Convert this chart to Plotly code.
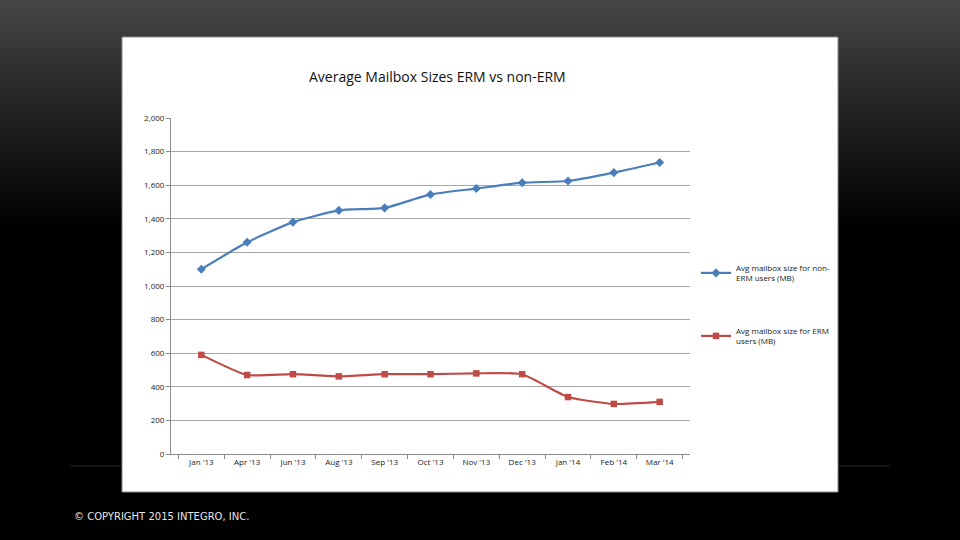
import base64
import plotly.graph_objects as go

# ---------------- data ----------------
months = ["Jan '13", "Apr '13", "Jun '13", "Aug '13", "Sep '13", "Oct '13",
          "Nov '13", "Dec '13", "Jan '14", "Feb '14", "Mar '14"]
non_erm = [1100, 1260, 1380, 1450, 1465, 1545, 1580, 1615, 1625, 1675, 1735]
erm = [590, 470, 475, 462, 475, 475, 480, 475, 339, 298, 310]
y_ticks = [0, 200, 400, 600, 800, 1000, 1200, 1400, 1600, 1800, 2000]
y_tick_text = ["0", "200", "400", "600", "800", "1,000", "1,200", "1,400",
               "1,600", "1,800", "2,000"]
title_text = "Average Mailbox Sizes ERM vs non-ERM"
name_non_erm = "Avg mailbox size for non-<br>ERM users (MB)"
name_erm = "Avg mailbox size for ERM<br>users (MB)"
copyright_text = "© COPYRIGHT 2015 INTEGRO, INC."

# ---------------- layout geometry ----------------
W, H = 960, 540
L, R, T, B = 171, 270, 118, 86
PW, PH = W - L - R, H - T - B


def px(x):
    return (x - L) / PW


def py(y):
    return (H - B - y) / PH


BLUE = "#4a7ebb"
RED = "#be4b48"

grad_svg = (
    '<svg xmlns="http://www.w3.org/2000/svg" width="960" height="540">'
    '<defs><linearGradient id="g" x1="0" y1="0" x2="0" y2="1">'
    '<stop offset="0" stop-color="#454545"/>'
    '<stop offset="0.42" stop-color="#000000"/>'
    '<stop offset="1" stop-color="#000000"/>'
    '</linearGradient></defs>'
    '<rect width="960" height="540" fill="url(#g)"/></svg>'
)
grad_uri = "data:image/svg+xml;base64," + base64.b64encode(grad_svg.encode()).decode()

fig = go.Figure()
fig.add_trace(go.Scatter(
    x=months, y=non_erm, name=name_non_erm, mode="lines+markers",
    line=dict(color=BLUE, width=2.2, shape="spline", smoothing=0.5),
    marker=dict(symbol="diamond", size=7, color=BLUE),
    legend="legend",
))
fig.add_trace(go.Scatter(
    x=months, y=erm, name=name_erm, mode="lines+markers",
    line=dict(color=RED, width=2.2, shape="spline", smoothing=0.5),
    marker=dict(symbol="square", size=6.5, color=RED),
    legend="legend2",
))

tick_font = dict(family="Open Sans, Arial, sans-serif", size=8, color="#222222")
legend_font = dict(family="Open Sans, Arial, sans-serif", size=8, color="#222222")

fig.update_layout(
    width=W, height=H,
    margin=dict(l=L, r=R, t=T, b=B, pad=0),
    paper_bgcolor="#000000",
    plot_bgcolor="#ffffff",
    showlegend=True,
    legend=dict(x=px(696), y=py(256), xanchor="left", yanchor="top",
                bgcolor="rgba(0,0,0,0)", font=legend_font, itemwidth=30,
                tracegroupgap=0),
    legend2=dict(x=px(696), y=py(319), xanchor="left", yanchor="top",
                 bgcolor="rgba(0,0,0,0)", font=legend_font, itemwidth=30,
                 tracegroupgap=0),
    xaxis=dict(
        type="category", tickfont=tick_font, showgrid=False,
        showline=True, linecolor="#8c8c8c", linewidth=1,
        ticks="outside", tickson="boundaries", ticklen=4, tickcolor="#8c8c8c",
        zeroline=False, fixedrange=True,
    ),
    yaxis=dict(
        range=[0, 2000], tickvals=y_ticks, ticktext=y_tick_text,
        tickfont=tick_font, showgrid=True, gridcolor="#a6a6a6", gridwidth=1,
        showline=True, linecolor="#8c8c8c", linewidth=1,
        ticks="outside", ticklen=4, tickcolor="#8c8c8c",
        zeroline=False, fixedrange=True,
    ),
    images=[dict(
        source=grad_uri, xref="paper", yref="paper",
        x=px(0), y=py(0), sizex=W / PW, sizey=H / PH,
        xanchor="left", yanchor="top", sizing="stretch", layer="below",
    )],
    shapes=[
        dict(type="line", xref="paper", yref="paper",
             x0=px(70), x1=px(890), y0=py(466), y1=py(466),
             line=dict(color="#262626", width=1), layer="below"),
        dict(type="rect", xref="paper", yref="paper",
             x0=px(122), x1=px(838), y0=py(492), y1=py(37),
             fillcolor="#ffffff", line=dict(color="#8a8a8a", width=1),
             layer="below"),
    ],
    annotations=[
        dict(text=title_text, xref="paper", yref="paper",
             x=px(437), y=py(76), xanchor="center", yanchor="middle",
             showarrow=False,
             font=dict(family="Open Sans, Arial, sans-serif", size=14,
                       color="#111111")),
        dict(text=copyright_text, xref="paper", yref="paper",
             x=px(72), y=py(516), xanchor="left", yanchor="middle",
             showarrow=False,
             font=dict(family="DejaVu Sans, sans-serif", size=10,
                       color="#e6e6e6")),
    ],
)

fig.write_html("out.html")
